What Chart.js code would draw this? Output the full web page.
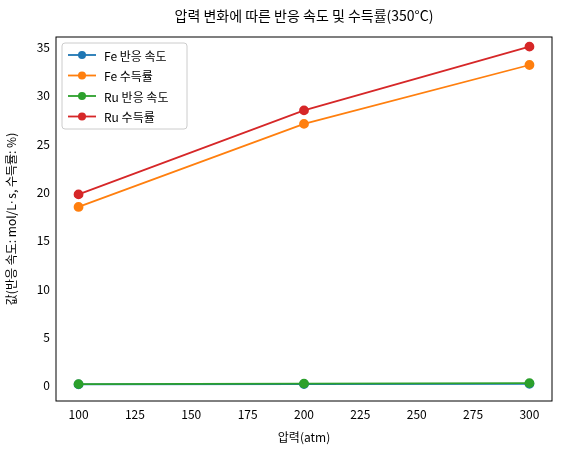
<!DOCTYPE html>
<html><head><meta charset="utf-8">
<script src="https://cdn.jsdelivr.net/npm/chart.js@4"></script>
<style>body{margin:0;background:#fff}#w{width:561px;height:455px}</style>
</head><body><div id="w"><canvas id="c"></canvas></div>
<script>
const pressures=[100,200,300];
const feRate=[0.12,0.15,0.18];
const feYield=[18.5,27.1,33.2];
const ruRate=[0.15,0.2,0.25];
const ruYield=[19.8,28.5,35.1];
const xTicks=[100,125,150,175,200,225,250,275,300];
const yTicks=[0,5,10,15,20,25,30,35];
const F='"Noto Sans CJK KR","Noto Sans",sans-serif';
const mk=(label,data,color,i)=>({label,order:4-i,data:pressures.map((p,k)=>({x:p,y:data[k]})),borderColor:color,backgroundColor:color,borderWidth:1.8,pointRadius:4,pointHoverRadius:4,tension:0});
const ds=[mk('Fe 반응 속도',feRate,'#1f77b4',0),mk('Fe 수득률',feYield,'#ff7f0e',1),mk('Ru 반응 속도',ruRate,'#2ca02c',2),mk('Ru 수득률',ruYield,'#d62728',3)];
const deco={id:'deco',afterDraw(ch){const c=ch.ctx,a=ch.chartArea;c.save();
c.strokeStyle='#000';c.lineWidth=1;c.strokeRect(a.left,a.top,a.right-a.left,a.bottom-a.top);
c.fillStyle='#000';c.font='14px '+F;c.textAlign='center';c.textBaseline='middle';
c.fillText('압력 변화에 따른 반응 속도 및 수득률(350°C)',(a.left+a.right)/2,a.top-21);
const lx=a.left+6,ly=a.top+6,w=125,h=86;
c.fillStyle='rgba(255,255,255,0.8)';c.strokeStyle='#ccc';c.beginPath();c.roundRect(lx,ly,w,h,3);c.fill();c.stroke();
c.font='12px '+F;c.textAlign='left';
ch.data.datasets.forEach((d,i)=>{const y=ly+12+i*20.5;c.strokeStyle=d.borderColor;c.lineWidth=1.8;c.beginPath();c.moveTo(lx+6,y);c.lineTo(lx+34,y);c.stroke();
c.fillStyle=d.borderColor;c.beginPath();c.arc(lx+20,y,4,0,Math.PI*2);c.fill();c.fillStyle='#000';c.fillText(d.label,lx+42,y+1);});
c.restore();}};
new Chart(document.getElementById('c'),{type:'line',data:{datasets:ds},plugins:[deco],
options:{responsive:true,maintainAspectRatio:false,animation:false,
layout:{padding:{top:37,right:9,left:0,bottom:0}},
plugins:{legend:{display:false},tooltip:{enabled:false}},
scales:{
x:{type:'linear',min:90,max:310,afterFit(s){s.height=54},afterBuildTicks(s){s.ticks=xTicks.map(v=>({value:v}))},
grid:{display:false,drawTicks:true,tickLength:4,tickColor:'#000'},border:{display:false},
ticks:{color:'#000',font:{size:12,family:F},padding:2,maxRotation:0},
title:{display:true,text:'압력(atm)',color:'#000',font:{size:12,family:F},padding:{top:0,bottom:10}}},
y:{min:-1.6,max:36.1,afterFit(s){s.width=56},afterBuildTicks(s){s.ticks=yTicks.map(v=>({value:v}))},
grid:{display:false,drawTicks:true,tickLength:4,tickColor:'#000'},border:{display:false},
ticks:{color:'#000',font:{size:12,family:F},padding:2},
title:{display:true,text:'값(반응 속도: mol/L·s, 수득률: %)',color:'#000',font:{size:12,family:F},padding:{bottom:2}}}}}});
</script></body></html>
